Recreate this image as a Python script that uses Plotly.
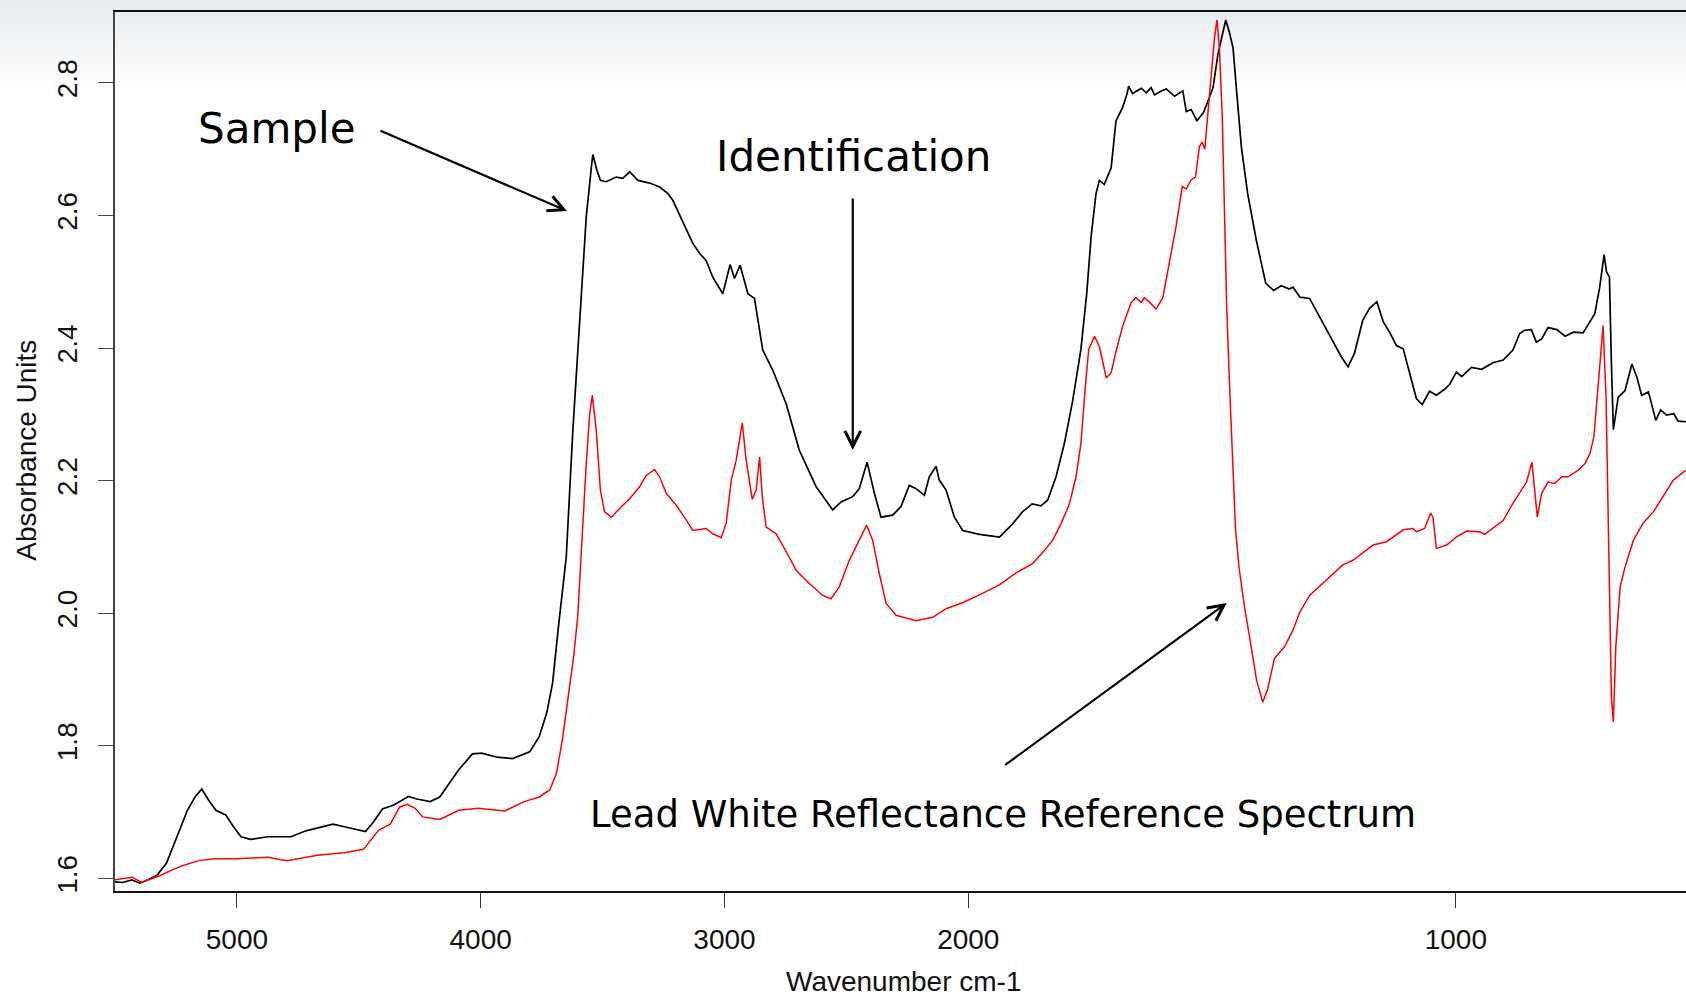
"""
FTIR reflectance spectrum: paint sample vs. lead white reference.
"""

import plotly.graph_objects as go

# ── Data (wavenumber cm-1, absorbance units) ─────────────────────────────────
SAMPLE_WN = [
    5500, 5469, 5430, 5398, 5360, 5328, 5289, 5250, 5203, 5172, 5144, 5116,
    5086, 5046, 5014, 4983, 4944, 4873, 4778, 4717, 4606, 4545, 4473, 4442,
    4403, 4356, 4296, 4262, 4207, 4168, 4090, 4034, 3996, 3932, 3869, 3799,
    3760, 3729, 3705, 3681, 3668, 3649, 3622, 3594, 3567, 3546, 3540, 3523,
    3509, 3485, 3444, 3417, 3389, 3355, 3307, 3266, 3232, 3212, 3184, 3157,
    3130, 3102, 3075, 3048, 3007, 2977, 2959, 2936, 2904, 2877, 2843, 2802,
    2747, 2693, 2624, 2556, 2522, 2474, 2447, 2415, 2385, 2358, 2310, 2276,
    2242, 2214, 2180, 2160, 2132, 2119, 2091, 2057, 2023, 1977, 1936, 1909,
    1889, 1869, 1851, 1837, 1820, 1803, 1786, 1769, 1757, 1748, 1738, 1731,
    1721, 1707, 1697, 1684, 1675, 1671, 1663, 1645, 1635, 1625, 1618, 1604,
    1594, 1577, 1560, 1553, 1543, 1531, 1518, 1507, 1498, 1488, 1479, 1472,
    1464, 1457, 1449, 1440, 1427, 1409, 1390, 1374, 1358, 1342, 1334, 1320,
    1300, 1279, 1252, 1235, 1221, 1208, 1191, 1177, 1162, 1149, 1136, 1122,
    1108, 1095, 1081, 1069, 1054, 1040, 1023, 1013, 999, 988, 968, 947,
    924, 903, 883, 869, 859, 845, 835, 824, 811, 793, 776, 759,
    739, 725, 715, 705, 696, 691, 685, 681, 677, 667, 653, 639,
    629, 619, 605, 590, 580, 568, 553, 544, 528,
]
SAMPLE_ABS = [
    1.595, 1.594, 1.598, 1.593, 1.599, 1.605, 1.623, 1.658, 1.703, 1.723, 1.735, 1.718,
    1.703, 1.696, 1.678, 1.663, 1.659, 1.663, 1.663, 1.672, 1.682, 1.677, 1.671, 1.684,
    1.705, 1.711, 1.724, 1.720, 1.716, 1.723, 1.764, 1.788, 1.789, 1.783, 1.781, 1.791,
    1.814, 1.850, 1.895, 1.980, 2.020, 2.085, 2.276, 2.447, 2.598, 2.673, 2.692, 2.668,
    2.653, 2.651, 2.658, 2.656, 2.666, 2.653, 2.649, 2.643, 2.633, 2.623, 2.600, 2.578,
    2.558, 2.543, 2.532, 2.507, 2.482, 2.526, 2.505, 2.525, 2.482, 2.475, 2.397, 2.367,
    2.316, 2.246, 2.191, 2.156, 2.168, 2.176, 2.188, 2.228, 2.181, 2.145, 2.148, 2.161,
    2.193, 2.188, 2.178, 2.206, 2.222, 2.201, 2.186, 2.145, 2.125, 2.119, 2.115, 2.135,
    2.153, 2.165, 2.162, 2.171, 2.206, 2.256, 2.320, 2.398, 2.483, 2.569, 2.633, 2.653,
    2.647, 2.672, 2.743, 2.762, 2.782, 2.795, 2.784, 2.792, 2.785, 2.793, 2.782, 2.788,
    2.791, 2.780, 2.788, 2.757, 2.760, 2.743, 2.755, 2.775, 2.793, 2.843, 2.875, 2.895,
    2.875, 2.853, 2.782, 2.704, 2.633, 2.562, 2.498, 2.487, 2.494, 2.489, 2.492, 2.477,
    2.475, 2.447, 2.412, 2.387, 2.372, 2.392, 2.442, 2.460, 2.470, 2.440, 2.424, 2.404,
    2.399, 2.362, 2.324, 2.315, 2.335, 2.329, 2.338, 2.345, 2.364, 2.357, 2.371, 2.368,
    2.378, 2.382, 2.397, 2.422, 2.427, 2.428, 2.409, 2.414, 2.431, 2.428, 2.418, 2.424,
    2.423, 2.440, 2.452, 2.492, 2.541, 2.515, 2.507, 2.377, 2.277, 2.326, 2.336, 2.376,
    2.357, 2.329, 2.334, 2.291, 2.307, 2.299, 2.301, 2.290, 2.289,
]

REF_WN = [
    5500, 5430, 5391, 5344, 5312, 5266, 5218, 5155, 5093, 5000, 4873, 4795,
    4669, 4560, 4481, 4418, 4371, 4332, 4301, 4269, 4238, 4168, 4090, 4010,
    3901, 3822, 3760, 3716, 3689, 3665, 3642, 3619, 3602, 3583, 3567, 3553,
    3542, 3526, 3509, 3492, 3464, 3430, 3389, 3348, 3321, 3287, 3266, 3239,
    3198, 3157, 3130, 3075, 3048, 3013, 2993, 2972, 2952, 2927, 2911, 2886,
    2870, 2856, 2845, 2829, 2788, 2747, 2706, 2652, 2597, 2563, 2529, 2488,
    2447, 2417, 2392, 2365, 2337, 2296, 2214, 2146, 2091, 2023, 1971, 1936,
    1902, 1868, 1847, 1827, 1810, 1793, 1779, 1769, 1760, 1753, 1741, 1731,
    1717, 1707, 1697, 1683, 1666, 1656, 1645, 1639, 1628, 1615, 1601, 1587,
    1574, 1561, 1553, 1543, 1534, 1526, 1520, 1515, 1509, 1502, 1495, 1490,
    1485, 1479, 1474, 1470, 1464, 1457, 1452, 1445, 1433, 1423, 1409, 1396,
    1386, 1372, 1351, 1334, 1320, 1300, 1279, 1252, 1232, 1211, 1191, 1170,
    1142, 1122, 1108, 1088, 1081, 1064, 1052, 1047, 1040, 1019, 999, 978,
    951, 941, 924, 903, 883, 869, 855, 844, 838, 833, 824, 811,
    797, 783, 770, 759, 749, 735, 725, 717, 710, 705, 698, 692,
    688, 684, 681, 677, 672, 663, 653, 636, 616, 595, 575, 554, 528,
]
REF_ABS = [
    1.598, 1.602, 1.594, 1.600, 1.605, 1.613, 1.620, 1.627, 1.630, 1.630, 1.632, 1.627,
    1.635, 1.639, 1.644, 1.673, 1.682, 1.708, 1.712, 1.706, 1.693, 1.689, 1.703, 1.706,
    1.702, 1.716, 1.723, 1.734, 1.759, 1.809, 1.869, 1.934, 1.995, 2.125, 2.226, 2.301,
    2.329, 2.276, 2.186, 2.153, 2.145, 2.158, 2.173, 2.191, 2.208, 2.217, 2.206, 2.181,
    2.163, 2.141, 2.125, 2.128, 2.120, 2.114, 2.136, 2.201, 2.231, 2.287, 2.231, 2.172,
    2.186, 2.236, 2.176, 2.130, 2.120, 2.093, 2.065, 2.045, 2.027, 2.022, 2.040, 2.080,
    2.110, 2.133, 2.110, 2.060, 2.015, 1.997, 1.989, 1.994, 2.007, 2.016, 2.030, 2.043,
    2.061, 2.075, 2.092, 2.110, 2.135, 2.164, 2.206, 2.256, 2.341, 2.398, 2.418, 2.402,
    2.355, 2.363, 2.395, 2.434, 2.469, 2.476, 2.469, 2.476, 2.469, 2.459, 2.476, 2.533,
    2.583, 2.644, 2.640, 2.654, 2.658, 2.704, 2.711, 2.700, 2.747, 2.811, 2.868, 2.895,
    2.853, 2.747, 2.604, 2.462, 2.341, 2.213, 2.128, 2.071, 2.007, 1.964, 1.900, 1.866,
    1.886, 1.932, 1.950, 1.975, 2.002, 2.027, 2.041, 2.060, 2.073, 2.080, 2.091, 2.103,
    2.108, 2.118, 2.126, 2.128, 2.123, 2.128, 2.151, 2.145, 2.098, 2.103, 2.115, 2.124,
    2.123, 2.119, 2.128, 2.140, 2.166, 2.181, 2.198, 2.228, 2.186, 2.145, 2.181, 2.198,
    2.196, 2.206, 2.206, 2.211, 2.216, 2.226, 2.241, 2.266, 2.331, 2.377, 2.434, 2.326,
    2.176, 2.000, 1.874, 1.836, 1.949, 2.040, 2.070, 2.110, 2.136, 2.153, 2.176, 2.201, 2.216,
]

X_TICKS = [5000, 4000, 3000, 2000, 1000]
Y_TICKS = [1.6, 1.8, 2.0, 2.2, 2.4, 2.6, 2.8]
WN_RANGE = [5500, 528]
ABS_RANGE = [1.5812, 2.907]


# ── Style ────────────────────────────────────────────────────────────────────
_AXFONT = dict(family="Liberation Sans, Arial, sans-serif", size=28, color="#111111")
_NOTE = "DejaVu Sans, Verdana, sans-serif"
_W, _H = 1686, 996
_M = dict(l=115, r=0, t=12, b=105)


def _axis_pos(wn):
    # FTIR convention: the wavenumber scale is doubled below 2000 cm-1
    return wn if wn >= 2000 else 2 * wn - 2000


def _gradient_bands(top=(231, 235, 238), depth=92, step=3):
    """Slide-style grey-to-white gradient across the top of the page."""
    plot_h = _H - _M["t"] - _M["b"]
    bottom_px = _H - _M["b"]
    shapes = []
    for py in range(0, depth, step):
        f = py / depth
        c = [round(v + (255 - v) * f) for v in top]
        shapes.append(dict(
            type="rect", xref="paper", yref="paper", layer="below",
            x0=-0.1, x1=1.05,
            y0=(bottom_px - (py + step + 1)) / plot_h,
            y1=1.05 if py == 0 else (bottom_px - py) / plot_h,
            fillcolor=f"rgb({c[0]},{c[1]},{c[2]})", line=dict(width=0),
        ))
    return shapes


fig = go.Figure()

fig.add_trace(go.Scatter(
    x=[_axis_pos(w) for w in SAMPLE_WN], y=SAMPLE_ABS,
    mode="lines", name="Sample",
    line=dict(color="#000000", width=1.7),
))
fig.add_trace(go.Scatter(
    x=[_axis_pos(w) for w in REF_WN], y=REF_ABS,
    mode="lines", name="Lead White Reflectance Reference Spectrum",
    line=dict(color="#ff0000", width=1.5),
))

notes = [
    dict(text="Sample", x=0.1025, y=0.8675, size=42),
    dict(text="Identification", x=0.4702, y=0.8353, size=42),
    dict(text="Lead White Reflectance Reference Spectrum", x=0.5652, y=0.0865, size=37),
]
annotations = [
    dict(text=n["text"], x=n["x"], y=n["y"], xref="paper", yref="paper",
         xanchor="center", yanchor="middle", showarrow=False,
         font=dict(family=_NOTE, size=n["size"], color="#000000"))
    for n in notes
]

# arrows: head position in paper coords, tail offset in pixels
arrows = [
    (0.2877, 0.7736, -188, -81),
    (0.4696, 0.5017, 0, -253),
    (0.7076, 0.3276, -223, 163),
]
for hx, hy, ax, ay in arrows:
    annotations.append(dict(
        text="", x=hx, y=hy, xref="paper", yref="paper", ax=ax, ay=ay,
        showarrow=True, arrowhead=5, arrowsize=1.4, arrowwidth=2.2,
        arrowcolor="#000000",
    ))

# axis titles
annotations += [
    dict(text="Wavenumber cm-1", x=0.502, y=-0.103, xref="paper", yref="paper",
         xanchor="center", yanchor="middle", showarrow=False, font=_AXFONT),
    dict(text="Absorbance Units", x=-0.056, y=0.501, xref="paper", yref="paper",
         xanchor="center", yanchor="middle", showarrow=False, textangle=-90,
         font=_AXFONT),
]

fig.update_layout(
    width=_W, height=_H,
    margin=_M,
    paper_bgcolor="white",
    plot_bgcolor="rgba(0,0,0,0)",
    showlegend=False,
    shapes=_gradient_bands(),
    annotations=annotations,
    xaxis=dict(
        range=[_axis_pos(WN_RANGE[0]), _axis_pos(WN_RANGE[1])],
        tickvals=[_axis_pos(v) for v in X_TICKS],
        ticktext=[str(v) for v in X_TICKS],
        ticks="outside", ticklen=15, tickwidth=1.3, tickcolor="#333333",
        tickfont=_AXFONT, ticklabelstandoff=8,
        showgrid=False, zeroline=False,
        showline=True, linecolor="#111111", linewidth=1.6, mirror=True,
    ),
    yaxis=dict(
        range=ABS_RANGE,
        tickvals=Y_TICKS,
        ticktext=[f"{v:.1f}" for v in Y_TICKS],
        tickangle=-90,
        ticks="outside", ticklen=15, tickwidth=1.3, tickcolor="#444444",
        tickfont=_AXFONT, ticklabelstandoff=10,
        showgrid=False, zeroline=False,
        showline=True, linecolor="#444444", linewidth=1.6,
    ),
)

# page body has a default 8px margin; drop it so the figure fills the window
fig.write_html(
    "out.html",
    config={"displayModeBar": False},
    post_script="document.body.style.margin='0';",
)
